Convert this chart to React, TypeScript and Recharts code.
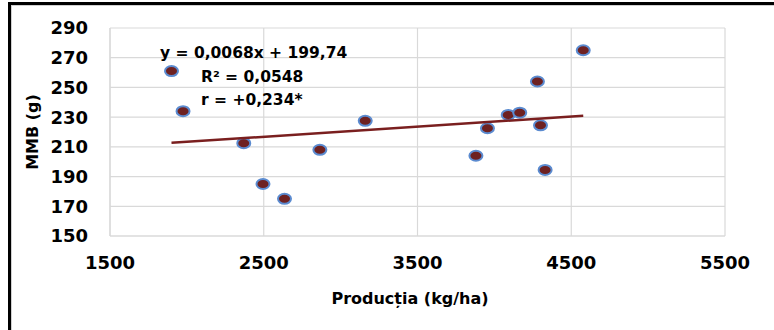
import { CartesianGrid, Scatter, ScatterChart, XAxis, YAxis } from "recharts";

const productionKgHa = [1900, 1975, 2370, 2495, 2635, 2865, 3160, 3880, 3955, 4090, 4165, 4280, 4300, 4330, 4578];
const mmbGrams = [261, 234, 212.5, 185, 175, 208, 227.5, 204, 222.5, 231.5, 233, 254, 224.5, 194.5, 275];

// end points of the Excel trend line (y = 0,0068x + 199,74)
const trendX = [1900, 4578];
const trendY = [212.7, 230.9];

const xTicks = [1500, 2500, 3500, 4500, 5500];
const yTicks = [150, 170, 190, 210, 230, 250, 270, 290];

const annotations = ["y = 0,0068x + 199,74", "R\u00b2 = 0,0548", "r = +0,234*"];

const points = productionKgHa.map((x, i) => ({ x, y: mmbGrams[i] }));
const trend = trendX.map((x, i) => ({ x, y: trendY[i] }));

const FONT = "'DejaVu Sans', sans-serif";
const GRID = "#d9d9d9";

function Marker(props: any) {
  const { cx, cy } = props;
  if (cx == null || cy == null) return null;
  return (
    <ellipse cx={cx} cy={cy} rx={6.5} ry={5} fill="#6e2121" stroke="#5b8bd0" strokeWidth={2} />
  );
}

export default function App() {
  return (
    <div style={{ position: "absolute", left: 0, top: 0, width: 774, height: 330, background: "#fff", fontFamily: FONT }}>
      {/* frame, cropped at the right and bottom like the source image */}
      <div style={{ position: "absolute", left: 8, top: 2, right: 0, bottom: 0, borderTop: "3px solid #000", borderLeft: "3px solid #000" }} />
      <div style={{ position: "absolute", left: 11, top: 5, right: 0, bottom: 0, borderTop: "1px solid #d0d0d0", borderLeft: "1px solid #d0d0d0" }} />

      <ScatterChart width={774} height={330} margin={{ top: 28, right: 49, bottom: 64, left: 0 }} style={{ position: "absolute", left: 0, top: 0 }}>
        <CartesianGrid stroke={GRID} strokeWidth={1.2} />
        <XAxis
          type="number"
          dataKey="x"
          domain={[1500, 5500]}
          ticks={xTicks}
          tickLine={false}
          axisLine={{ stroke: GRID, strokeWidth: 1.2 }}
          tickMargin={14}
          tick={{ fontSize: 18, fontWeight: "bold", fill: "#000", fontFamily: FONT }}
        />
        <YAxis
          type="number"
          dataKey="y"
          domain={[150, 290]}
          ticks={yTicks}
          width={110}
          tickLine={false}
          axisLine={{ stroke: GRID, strokeWidth: 1.2 }}
          tickMargin={16}
          tick={{ fontSize: 18, fontWeight: "bold", fill: "#000", fontFamily: FONT }}
        />
        <Scatter data={points} shape={<Marker />} isAnimationActive={false} />
        <Scatter
          data={trend}
          line={{ stroke: "#7a1f1f", strokeWidth: 2.5 }}
          lineType="joint"
          shape={() => <g />}
          isAnimationActive={false}
        />
      </ScatterChart>

      {annotations.map((t, i) => (
        <div
          key={t}
          style={{
            position: "absolute",
            left: i === 0 ? 160 : 201,
            top: [44, 68, 91][i],
            fontSize: 15.5,
            fontWeight: "bold",
            whiteSpace: "nowrap",
            color: "#000",
          }}
        >
          {t}
        </div>
      ))}

      <div
        style={{
          position: "absolute",
          left: 32,
          top: 132,
          transform: "translate(-50%, -50%) rotate(-90deg)",
          fontSize: 16,
          fontWeight: "bold",
          whiteSpace: "nowrap",
        }}
      >
        MMB (g)
      </div>
      <div
        style={{
          position: "absolute",
          left: 410,
          top: 298,
          transform: "translate(-50%, -50%)",
          fontSize: 16,
          fontWeight: "bold",
          whiteSpace: "nowrap",
        }}
      >
        Producția (kg/ha)
      </div>
    </div>
  );
}
